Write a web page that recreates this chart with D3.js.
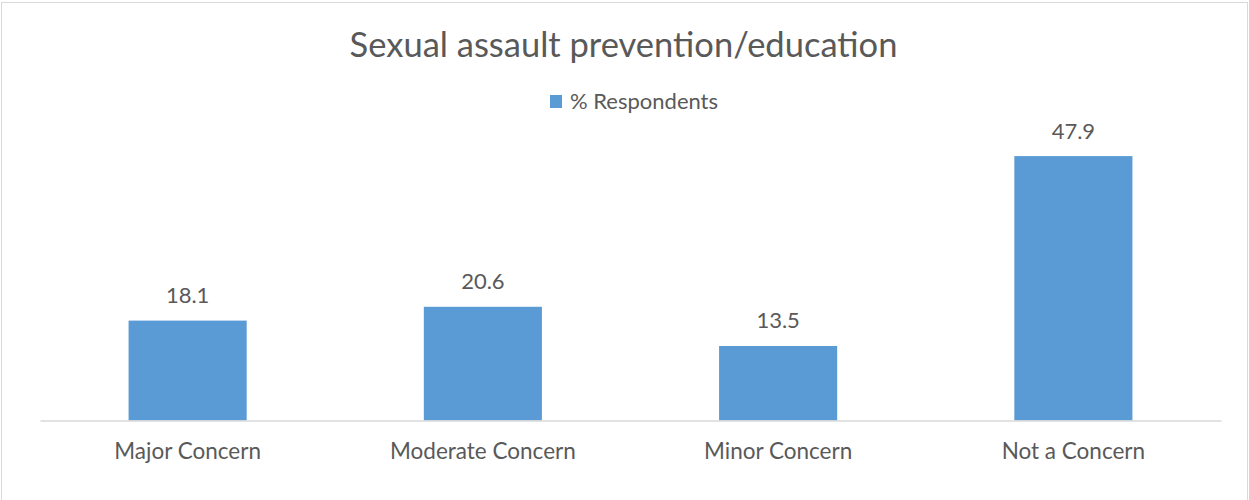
<!DOCTYPE html>
<html>
<head>
<meta charset="utf-8">
<script src="https://cdn.jsdelivr.net/npm/d3@7"></script>
<style>
  html, body { margin: 0; padding: 0; background: #fff; }
  svg { display: block; }
  text { font-family: Lato, "Open Sans", sans-serif; fill: #595959; }
</style>
</head>
<body>
<svg id="chart" width="1249" height="500"></svg>
<script>
// Survey responses for sexual assault prevention/education
const categories = ["Major Concern", "Moderate Concern", "Minor Concern", "Not a Concern"];
const respondents = [18.1, 20.6, 13.5, 47.9];
const seriesName = "% Respondents";
const chartTitle = "Sexual assault prevention/education";

const width = 1249, height = 500;
const plot = { left: 40, right: 1221, top: 144.5, bottom: 420.5 };
const barColor = "#5B9BD5";

const svg = d3.select("#chart");

// chart frame
svg.append("rect")
  .attr("x", 1.5).attr("y", 2.5)
  .attr("width", 1246).attr("height", 500)
  .attr("fill", "none").attr("stroke", "#d9d9d9").attr("stroke-width", 1);

const x = d3.scaleBand()
  .domain(categories)
  .range([plot.left, plot.right])
  .paddingInner(0.6)
  .paddingOuter(0.3);

const y = d3.scaleLinear()
  .domain([0, 50])
  .range([plot.bottom, plot.top]);

// title
svg.append("text")
  .attr("x", width / 2 - 1).attr("y", 57)
  .attr("text-anchor", "middle")
  .style("font-size", "34.5px")
  .text(chartTitle);

// legend
const legend = svg.append("g").attr("transform", "translate(550,95)");
legend.append("rect").attr("width", 12).attr("height", 13).attr("fill", barColor);
legend.append("text").attr("x", 20).attr("y", 13.5).style("font-size", "22px").text(seriesName);

// bars
svg.append("g").selectAll("rect")
  .data(respondents)
  .join("rect")
  .attr("x", (d, i) => x(categories[i]))
  .attr("y", d => y(d))
  .attr("width", x.bandwidth())
  .attr("height", d => y(0) - y(d))
  .attr("fill", barColor);

// value labels
svg.append("g").selectAll("text")
  .data(respondents)
  .join("text")
  .attr("x", (d, i) => x(categories[i]) + x.bandwidth() / 2)
  .attr("y", d => y(d) - 17.5)
  .attr("text-anchor", "middle")
  .style("font-size", "22px")
  .text(d => d.toFixed(1));

// category axis
const xAxis = svg.append("g")
  .attr("transform", `translate(0,${plot.bottom})`)
  .call(d3.axisBottom(x).tickSize(0).tickPadding(0).tickSizeOuter(0));
xAxis.select(".domain").attr("stroke", "#d9d9d9").attr("stroke-width", 1.3);
xAxis.selectAll(".tick text")
  .attr("y", 38.5).attr("dy", null)
  .style("font-size", "22.5px")
  .style("font-family", "Lato, 'Open Sans', sans-serif")
  .attr("fill", "#595959");
</script>
</body>
</html>
